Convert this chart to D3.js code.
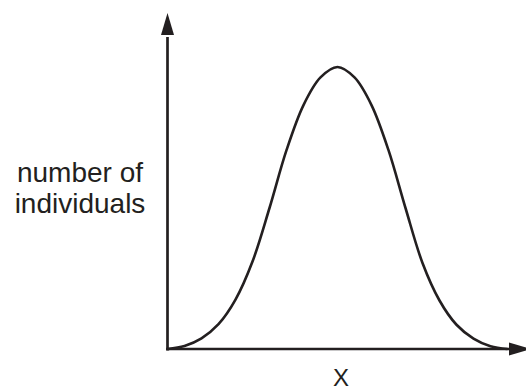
<!DOCTYPE html>
<html>
<head>
<meta charset="utf-8">
<script src="https://cdn.jsdelivr.net/npm/d3@7"></script>
<style>
  html, body { margin: 0; padding: 0; background: #fff; }
  svg { display: block; }
</style>
</head>
<body>
<svg id="chart" width="526" height="390"></svg>
<script>
// ---- data ----
const xValues = [0, 0.5, 1, 1.5, 2, 2.5, 3, 3.5, 4, 4.5, 5, 5.5, 6, 6.5, 7, 7.5, 8, 8.5, 9, 9.5, 10];
const individuals = [0, 1.1, 3.8, 8.8, 17.5, 31.0, 50.0, 70.5, 86.5, 96.3, 100, 96.3, 86.5, 70.5, 50.0, 30.5, 17.2, 8.6, 3.7, 1.0, 0];
const yLabelLines = ["number of", "individuals"];
const xLabel = "X";

const ink = "#231f20";
const svg = d3.select("#chart");

const x = d3.scaleLinear().domain([0, 10]).range([167.5, 507.5]);
const y = d3.scaleLinear().domain([0, 100]).range([349, 67]);

const data = xValues.map((v, i) => ({ x: v, y: individuals[i] }));

// axes (no ticks)
const x0 = x(0), y0 = y(0);
const yTop = 35, yTip = 13;
const xEnd = 509, xTip = 531;

svg.append("line")
  .attr("x1", x0).attr("y1", y0 + 1.4)
  .attr("x2", x0).attr("y2", yTop + 2)
  .attr("stroke", ink).attr("stroke-width", 2.7);
svg.append("path")
  .attr("d", `M${x0},${yTip} L${x0 - 6.5},${yTop} L${x0 + 6.5},${yTop} Z`)
  .attr("fill", ink);

svg.append("line")
  .attr("x1", x0 - 1.4).attr("y1", y0)
  .attr("x2", xEnd + 2).attr("y2", y0)
  .attr("stroke", ink).attr("stroke-width", 2.7);
svg.append("path")
  .attr("d", `M${xTip},${y0} L${xEnd},${y0 - 6.5} L${xEnd},${y0 + 6.5} Z`)
  .attr("fill", ink);

// curve
const line = d3.line()
  .x(d => x(d.x))
  .y(d => y(d.y))
  .curve(d3.curveCatmullRom.alpha(0.5));

svg.append("path")
  .datum(data)
  .attr("d", line)
  .attr("fill", "none")
  .attr("stroke", ink)
  .attr("stroke-width", 2.6);

// labels
svg.append("g")
  .selectAll("text")
  .data(yLabelLines)
  .join("text")
  .attr("x", 80)
  .attr("y", (d, i) => 182 + i * 31)
  .attr("text-anchor", "middle")
  .attr("font-family", "Liberation Sans, Arial, sans-serif")
  .attr("font-size", 28)
  .attr("fill", ink)
  .text(d => d);

svg.append("text")
  .attr("x", 341)
  .attr("y", 385.5)
  .attr("text-anchor", "middle")
  .attr("font-family", "Liberation Sans, Arial, sans-serif")
  .attr("font-size", 24)
  .attr("fill", ink)
  .text(xLabel);
</script>
</body>
</html>
